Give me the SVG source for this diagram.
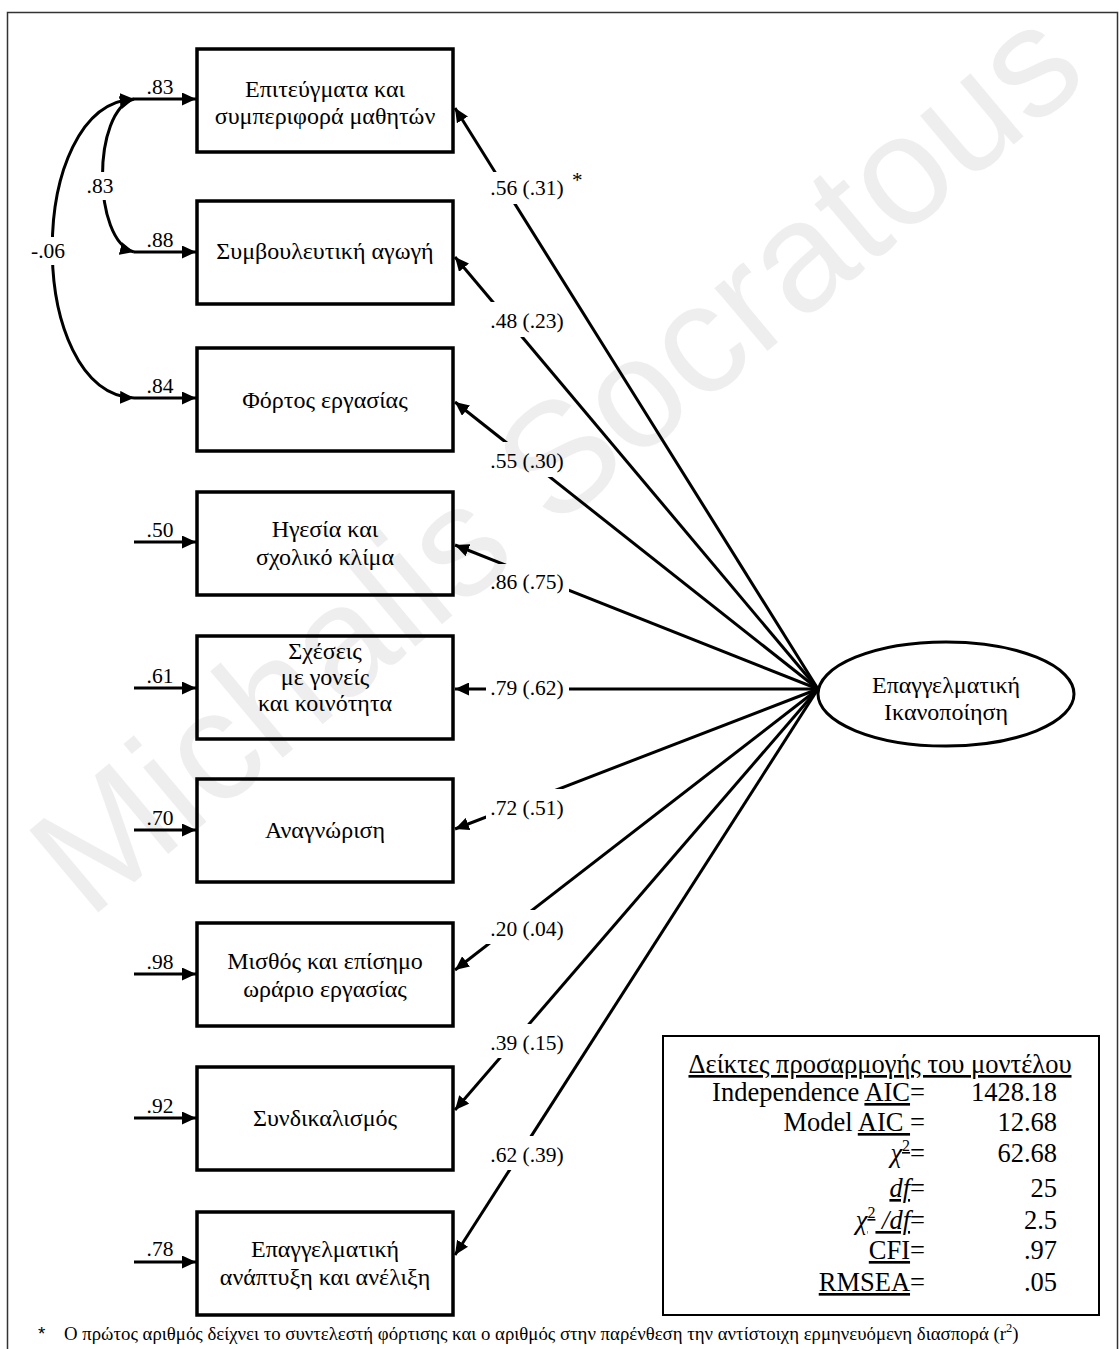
<svg xmlns="http://www.w3.org/2000/svg" width="1120" height="1349" viewBox="0 0 1120 1349">
  <style>
    .serif { font-family: "Liberation Serif", "Times New Roman", "DejaVu Serif", serif; fill: #000; }
    .node-box { fill: #fff; stroke: #000; stroke-width: 3.5; }
    .node-text { font-size: 24px; text-anchor: middle; }
    .edge { fill: none; stroke: #000; stroke-width: 3; }
    .edge-label { font-size: 21.5px; text-anchor: middle; }
    .err-label { font-size: 21.5px; text-anchor: middle; }
    .gap { fill: #fff; }
    .fit { font-size: 26.5px; }
    .num { text-anchor: end; }
    .u { text-decoration: underline; }
  </style>
  <defs>
    <marker id="arrow" markerUnits="userSpaceOnUse" markerWidth="15" markerHeight="13" refX="14" refY="6.5" orient="auto-start-reverse">
      <path d="M0,0 L14,6.5 L0,13 Z" fill="#000"/>
    </marker>
  </defs>

  <rect width="1120" height="1349" fill="#fff"/>

  <!-- frame -->
  <rect x="7.5" y="12.5" width="1110" height="1400" fill="none" stroke="#333" stroke-width="1.5"/>

  <!-- connectors -->
  <g id="connectors" class="edge">
    <!-- error terms -->
    <line x1="134" y1="99" x2="196" y2="99" marker-end="url(#arrow)"/>
    <line x1="134" y1="252" x2="196" y2="252" marker-end="url(#arrow)"/>
    <line x1="134" y1="398" x2="196" y2="398" marker-end="url(#arrow)"/>
    <line x1="134" y1="542" x2="196" y2="542" marker-end="url(#arrow)"/>
    <line x1="134" y1="688" x2="196" y2="688" marker-end="url(#arrow)"/>
    <line x1="134" y1="830" x2="196" y2="830" marker-end="url(#arrow)"/>
    <line x1="134" y1="974" x2="196" y2="974" marker-end="url(#arrow)"/>
    <line x1="134" y1="1118" x2="196" y2="1118" marker-end="url(#arrow)"/>
    <line x1="134" y1="1262" x2="196" y2="1262" marker-end="url(#arrow)"/>
    <!-- error covariances -->
    <path d="M134,99 C92,110 92,241 134,252" marker-start="url(#arrow)" marker-end="url(#arrow)"/>
    <path d="M134,99 C25,104 25,393 134,398" marker-start="url(#arrow)" marker-end="url(#arrow)"/>
    <!-- factor loadings -->
    <line x1="818" y1="689" x2="455" y2="108" marker-end="url(#arrow)"/>
    <line x1="818" y1="689" x2="455" y2="257" marker-end="url(#arrow)"/>
    <line x1="818" y1="689" x2="455" y2="402" marker-end="url(#arrow)"/>
    <line x1="818" y1="689" x2="455" y2="545" marker-end="url(#arrow)"/>
    <line x1="818" y1="689" x2="455" y2="689" marker-end="url(#arrow)"/>
    <line x1="818" y1="689" x2="455" y2="829" marker-end="url(#arrow)"/>
    <line x1="818" y1="689" x2="455" y2="970" marker-end="url(#arrow)"/>
    <line x1="818" y1="689" x2="455" y2="1110" marker-end="url(#arrow)"/>
    <line x1="818" y1="689" x2="455" y2="1255" marker-end="url(#arrow)"/>
  </g>

  <!-- connector labels -->
  <g id="connector-labels" class="serif">
    <g class="gap">
      <rect x="85" y="172" width="30" height="28"/>
      <rect x="29" y="237" width="38" height="28"/>
      <rect x="486" y="172" width="83" height="32"/>
      <rect x="486" y="302" width="83" height="35"/>
      <rect x="486" y="442" width="83" height="35"/>
      <rect x="486" y="564" width="83" height="33"/>
      <rect x="486" y="672" width="83" height="30"/>
      <rect x="486" y="789" width="83" height="33"/>
      <rect x="486" y="910" width="83" height="34"/>
      <rect x="486" y="1024" width="83" height="34"/>
      <rect x="486" y="1136" width="83" height="34"/>
    </g>
    <text class="err-label" x="100" y="193">.83</text>
    <text class="err-label" x="48" y="258">-.06</text>
    <text class="err-label" x="160" y="94">.83</text>
    <text class="err-label" x="160" y="247">.88</text>
    <text class="err-label" x="160" y="393">.84</text>
    <text class="err-label" x="160" y="537">.50</text>
    <text class="err-label" x="160" y="683">.61</text>
    <text class="err-label" x="160" y="825">.70</text>
    <text class="err-label" x="160" y="969">.98</text>
    <text class="err-label" x="160" y="1113">.92</text>
    <text class="err-label" x="160" y="1256">.78</text>
    <text class="edge-label" x="527" y="195">.56 (.31)</text>
    <text x="572" y="187" font-size="21">*</text>
    <text class="edge-label" x="527" y="328">.48 (.23)</text>
    <text class="edge-label" x="527" y="468">.55 (.30)</text>
    <text class="edge-label" x="527" y="589">.86 (.75)</text>
    <text class="edge-label" x="527" y="695">.79 (.62)</text>
    <text class="edge-label" x="527" y="815">.72 (.51)</text>
    <text class="edge-label" x="527" y="936">.20 (.04)</text>
    <text class="edge-label" x="527" y="1050">.39 (.15)</text>
    <text class="edge-label" x="527" y="1162">.62 (.39)</text>
  </g>

  <!-- observed variables -->
  <g id="achievement" class="serif">
    <rect class="node-box" x="197" y="49" width="256" height="103"/>
    <text class="node-text" x="325" y="97">Επιτεύγματα και</text>
    <text class="node-text" x="325" y="124">συμπεριφορά μαθητών</text>
  </g>
  <g id="counselling" class="serif">
    <rect class="node-box" x="197" y="201" width="256" height="103"/>
    <text class="node-text" x="325" y="259">Συμβουλευτική αγωγή</text>
  </g>
  <g id="workload" class="serif">
    <rect class="node-box" x="197" y="348" width="256" height="103"/>
    <text class="node-text" x="325" y="408">Φόρτος εργασίας</text>
  </g>
  <g id="leadership" class="serif">
    <rect class="node-box" x="197" y="492" width="256" height="103"/>
    <text class="node-text" x="325" y="537">Ηγεσία και</text>
    <text class="node-text" x="325" y="565">σχολικό κλίμα</text>
  </g>
  <g id="parents" class="serif">
    <rect class="node-box" x="197" y="636" width="256" height="103"/>
    <text class="node-text" x="325" y="659">Σχέσεις</text>
    <text class="node-text" x="325" y="685">με γονείς</text>
    <text class="node-text" x="325" y="711">και κοινότητα</text>
  </g>
  <g id="recognition" class="serif">
    <rect class="node-box" x="197" y="779" width="256" height="103"/>
    <text class="node-text" x="325" y="838">Αναγνώριση</text>
  </g>
  <g id="salary" class="serif">
    <rect class="node-box" x="197" y="923" width="256" height="103"/>
    <text class="node-text" x="325" y="969">Μισθός και επίσημο</text>
    <text class="node-text" x="325" y="997">ωράριο εργασίας</text>
  </g>
  <g id="unionism" class="serif">
    <rect class="node-box" x="197" y="1067" width="256" height="103"/>
    <text class="node-text" x="325" y="1126">Συνδικαλισμός</text>
  </g>
  <g id="development" class="serif">
    <rect class="node-box" x="197" y="1212" width="256" height="103"/>
    <text class="node-text" x="325" y="1257">Επαγγελματική</text>
    <text class="node-text" x="325" y="1285">ανάπτυξη και ανέλιξη</text>
  </g>

  <!-- latent factor -->
  <g id="satisfaction" class="serif">
    <ellipse cx="946" cy="694" rx="128" ry="52" fill="#fff" stroke="#000" stroke-width="3"/>
    <text class="node-text" x="946" y="693">Επαγγελματική</text>
    <text class="node-text" x="946" y="720">Ικανοποίηση</text>
  </g>

  <!-- fit indices -->
  <g id="fit-indices" class="serif fit">
    <rect x="663" y="1036" width="436" height="279" fill="#fff" stroke="#000" stroke-width="2"/>
    <text x="880" y="1073" text-anchor="middle" class="u">Δείκτες προσαρμογής του μοντέλου</text>
    <text x="925" y="1101" class="num">Independence <tspan class="u">AIC</tspan>=</text>
    <text x="925" y="1131" class="num">Model <tspan class="u">AIC </tspan>=</text>
    <text x="925" y="1162" class="num"><tspan class="u" font-style="italic">χ</tspan><tspan class="u" font-size="16" dy="-11">2</tspan><tspan dy="11">=</tspan></text>
    <text x="925" y="1197" class="num"><tspan class="u" font-style="italic">df</tspan>=</text>
    <text x="925" y="1229" class="num"><tspan class="u" font-style="italic">χ</tspan><tspan class="u" font-size="16" dy="-11">2</tspan><tspan class="u" dy="11" font-style="italic"> /df</tspan>=</text>
    <text x="925" y="1259" class="num"><tspan class="u">CFI</tspan>=</text>
    <text x="925" y="1291" class="num"><tspan class="u">RMSEA</tspan>=</text>
    <text x="1057" y="1101" class="num">1428.18</text>
    <text x="1057" y="1131" class="num">12.68</text>
    <text x="1057" y="1162" class="num">62.68</text>
    <text x="1057" y="1197" class="num">25</text>
    <text x="1057" y="1229" class="num">2.5</text>
    <text x="1057" y="1259" class="num">.97</text>
    <text x="1057" y="1291" class="num">.05</text>
  </g>

  <!-- footnote -->
  <g id="footnote" class="serif" font-size="18.8">
    <text x="38" y="1340" font-family="Liberation Sans, Arial, sans-serif">*</text>
    <text x="64" y="1340">Ο πρώτος αριθμός δείχνει το συντελεστή φόρτισης και ο αριθμός στην παρένθεση την αντίστοιχη ερμηνευόμενη διασπορά (r<tspan font-size="12.5" dy="-8">2</tspan><tspan dy="8">)</tspan></text>
  </g>

  <!-- faint diagonal watermark laid over the whole sheet -->
  <text id="watermark" x="590" y="500" transform="rotate(-40 590 500)" font-family="Liberation Sans, Arial, sans-serif" font-size="156" fill="#000" fill-opacity="0.065" text-anchor="middle">Michalis Socratous</text>
</svg>
